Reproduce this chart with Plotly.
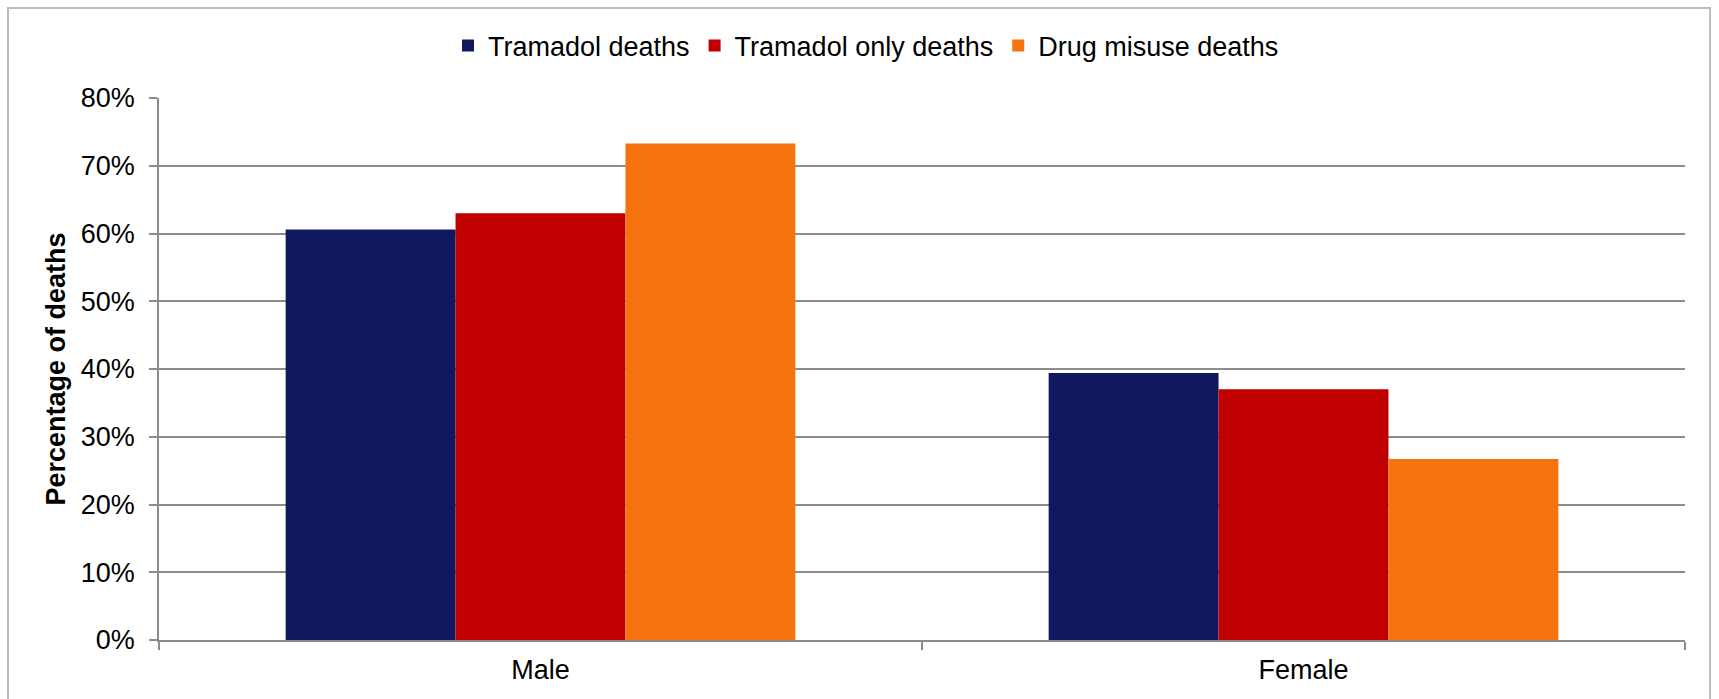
import plotly.graph_objects as go

# Share of deaths by sex (fractions of each series total)
categories = ["Male", "Female"]
tramadol_deaths = [0.606, 0.394]
tramadol_only_deaths = [0.630, 0.370]
drug_misuse_deaths = [0.733, 0.267]

series_names = ["Tramadol deaths", "Tramadol only deaths", "Drug misuse deaths"]
series_colors = ["#121860", "#C00000", "#F5730F"]
series_values = [tramadol_deaths, tramadol_only_deaths, drug_misuse_deaths]

y_ticks = [0, 0.1, 0.2, 0.3, 0.4, 0.5, 0.6, 0.7, 0.8]
y_tick_labels = ["0%", "10%", "20%", "30%", "40%", "50%", "60%", "70%", "80%"]

FONT = "Liberation Sans, Arial, sans-serif"
GRID = "#8C8C8C"

W, H = 1719, 699
ML, MR, MT, MB = 159, 34, 98, 59

fig = go.Figure()
for name, color, vals in zip(series_names, series_colors, series_values):
    fig.add_trace(go.Bar(
        x=categories, y=vals, name=name,
        marker=dict(color=color, line=dict(width=0)),
    ))

plot_w = W - ML - MR
plot_h = H - MT - MB

def px_x(p):
    return (p - ML) / plot_w

def px_y(p):
    return (H - MB - p) / plot_h

# light frame around the whole chart
fig.add_shape(
    type="rect", xref="paper", yref="paper",
    x0=px_x(8), x1=px_x(1710), y0=px_y(720), y1=px_y(8),
    line=dict(color="#BDBDBD", width=2), fillcolor="rgba(0,0,0,0)",
    layer="below",
)

fig.update_layout(
    width=W, height=H,
    margin=dict(l=ML, r=MR, t=MT, b=MB),
    paper_bgcolor="white", plot_bgcolor="white",
    barmode="group", bargap=0.332, bargroupgap=0,
    font=dict(family=FONT, size=27, color="black"),
    showlegend=True,
    legend=dict(
        orientation="h", xanchor="center", yanchor="middle",
        x=px_x(866), y=px_y(46),
        font=dict(family=FONT, size=27, color="black"),
        bgcolor="rgba(0,0,0,0)", itemwidth=30,
        traceorder="normal",
    ),
    xaxis=dict(
        showgrid=False, showline=True, linecolor=GRID, linewidth=1.5,
        ticks="outside", tickson="boundaries", ticklen=8, tickcolor=GRID,
        tickwidth=1.5, ticklabelstandoff=5,
        tickfont=dict(family=FONT, size=27, color="black"),
        fixedrange=True,
    ),
    yaxis=dict(
        range=[0, 0.8], tickvals=y_ticks, ticktext=y_tick_labels,
        showgrid=True, gridcolor=GRID, gridwidth=1.5,
        showline=True, linecolor=GRID, linewidth=1.5,
        ticks="outside", ticklen=8, tickcolor=GRID, tickwidth=1.5,
        ticklabelstandoff=9,
        tickfont=dict(family=FONT, size=27, color="black"),
        zeroline=False,
        title=dict(text="<b>Percentage of deaths</b>", standoff=7,
                   font=dict(family=FONT, size=27, color="black")),
        fixedrange=True,
    ),
)

fig.write_html("out.html")
